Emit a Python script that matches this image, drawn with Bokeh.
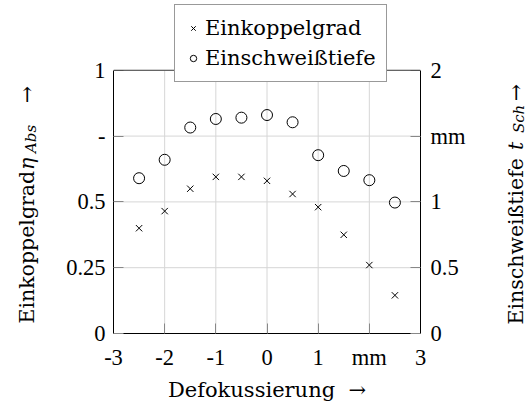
import math
from bokeh.plotting import figure
from bokeh.layouts import row
from bokeh.models import (Range1d, LinearAxis, FixedTicker, Label, Legend, LegendItem, Span)
from bokeh.embed import file_html
from bokeh.resources import INLINE

# ---- data ----
defocus = [-2.5, -2.0, -1.5, -1.0, -0.5, 0.0, 0.5, 1.0, 1.5, 2.0, 2.5]
einkoppelgrad = [0.40, 0.465, 0.55, 0.595, 0.595, 0.58, 0.53, 0.48, 0.375, 0.26, 0.145]
einschweisstiefe = [1.18, 1.32, 1.565, 1.63, 1.64, 1.66, 1.605, 1.355, 1.235, 1.165, 0.995]

x_ticks = [-3, -2, -1, 0, 1, 2, 3]
x_tick_labels = {-3: "-3", -2: "-2", -1: "-1", 2: "mm"}
left_ticks = [0, 0.25, 0.5, 0.75, 1]
left_tick_labels = {0.75: "-"}
right_ticks = [0, 0.5, 1, 1.5, 2]
right_tick_labels = {1.5: "mm"}

SERIF = "DejaVu Serif"
NUM = "Liberation Serif"

H = 404
BOTTOM = 70        # px below the frame
FRAME_H = 264      # px between y=0 and y=1
TOP_PAD = 70       # px of frame above y=1 (room for the legend)
top = 1 + TOP_PAD / FRAME_H
LEFT_W, RIGHT_W = 44, 36

p = figure(width=446, height=H, x_range=Range1d(-3, 3), y_range=Range1d(0, top),
           output_backend="svg", toolbar_location=None,
           min_border_left=69, min_border_right=70, min_border_top=0, min_border_bottom=BOTTOM)
p.background_fill_color = "white"
p.border_fill_color = "white"
p.outline_line_color = None
p.extra_y_ranges = {"right": Range1d(0, 2 * top)}

def style_axis(ax, ticks, overrides, standoff, bounds=None):
    ax.ticker = FixedTicker(ticks=ticks)
    ax.major_label_overrides = overrides
    ax.major_tick_in = 10
    ax.major_tick_out = 0
    ax.major_tick_line_color = "#888888"
    ax.minor_tick_line_color = None
    ax.axis_line_color = "black"
    ax.major_label_text_font = NUM
    ax.major_label_text_font_size = "22.5px"
    ax.major_label_text_color = "black"
    ax.major_label_standoff = standoff
    if bounds is not None:
        ax.bounds = bounds

style_axis(p.xaxis[0], x_ticks, x_tick_labels, 11)
p.xaxis[0].axis_label = "Defokussierung\u00a0\u00a0\u2192"
p.xaxis[0].axis_label_text_font = SERIF
p.xaxis[0].axis_label_text_font_size = "21px"
p.xaxis[0].axis_label_text_font_style = "normal"
p.xaxis[0].axis_label_text_color = "black"
p.xaxis[0].axis_label_standoff = 5
style_axis(p.yaxis[0], left_ticks, left_tick_labels, 8, bounds=(0, 1))
right_axis = LinearAxis(y_range_name="right")
style_axis(right_axis, right_ticks, right_tick_labels, 10, bounds=(0, 2))
p.add_layout(right_axis, "right")

p.xgrid.visible = False
p.ygrid.visible = False
GRID = "#d6d6d6"
p.segment(x0=x_ticks, y0=[0] * len(x_ticks), x1=x_ticks, y1=[1] * len(x_ticks),
          line_color=GRID, line_width=1, level="underlay")
p.segment(x0=[-3] * len(left_ticks), y0=left_ticks, x1=[3] * len(left_ticks), y1=left_ticks,
          line_color=GRID, line_width=1, level="underlay")
p.add_layout(Span(location=1, dimension="width", line_color="#444444", line_width=1))

r1 = p.scatter(defocus, einkoppelgrad, marker="x", size=9, line_color="black", line_width=1)
r2 = p.scatter(defocus, einschweisstiefe, marker="circle", size=11, line_color="black",
               fill_color=None, line_width=1, y_range_name="right")

legend = Legend(items=[LegendItem(label="Einkoppelgrad", renderers=[r1]),
                       LegendItem(label="Einschweißtiefe", renderers=[r2])],
                location=(61, 251), margin=0, padding=10, spacing=4,
                glyph_width=16, glyph_height=22, label_height=26, label_standoff=4,
                label_text_font=SERIF, label_text_font_size="21px", label_text_color="black",
                border_line_color="#333333", border_line_width=1,
                background_fill_color="white", background_fill_alpha=1)
p.add_layout(legend, "center")

FRAME_TOTAL = H - BOTTOM   # side frames are aligned with the main frame

def side_fig(w):
    f = figure(width=w, height=H, x_range=Range1d(0, w), y_range=Range1d(0, FRAME_TOTAL),
               output_backend="svg", toolbar_location=None,
               x_axis_location=None, y_axis_location=None, min_border=0)
    f.outline_line_color = None
    f.background_fill_color = "white"
    f.border_fill_color = "white"
    f.grid.visible = False
    return f

A = math.pi / 2
def lab(f, text, x, y, size="20.5px", style="normal"):
    f.add_layout(Label(x=x, y=y, text=text, angle=A,
                       text_font=SERIF, text_font_size=size, text_font_style=style,
                       text_color="black", text_align="left", text_baseline="alphabetic"))

lf = side_fig(LEFT_W)
lab(lf, "Einkoppelgrad", 26, 10)
lab(lf, "\u03b7", 26, 164, style="italic")
lab(lf, "Abs", 30, 181, size="15px", style="italic")
lab(lf, "\u2192", 26, 231)

rf = side_fig(RIGHT_W)
lab(rf, "Einschweißtiefe", 25, 9)
lab(rf, "t", 25, 184, style="italic")
lab(rf, "Sch", 28, 201, size="15px", style="italic")
lab(rf, "\u2192", 25, 233)

layout = row(lf, p, rf, spacing=0)
open("out.html", "w").write(file_html(layout, INLINE))
